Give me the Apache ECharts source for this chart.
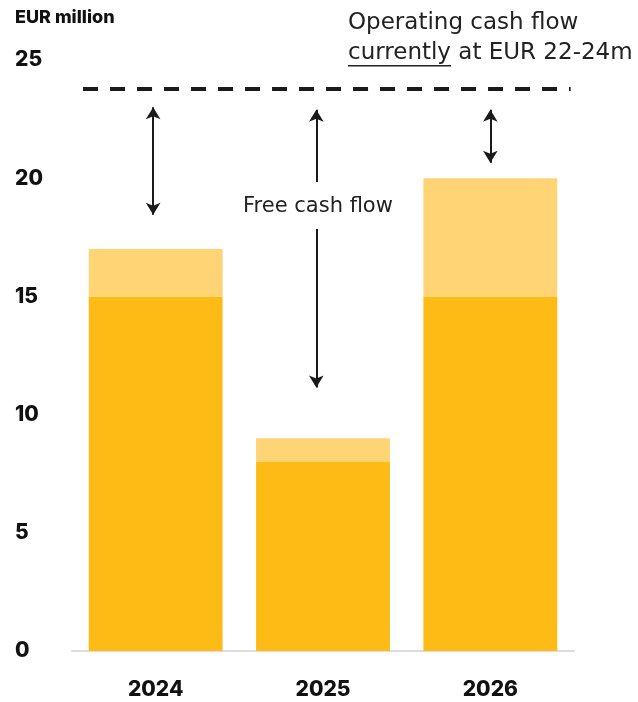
<!DOCTYPE html>
<html>
<head>
<meta charset="utf-8">
<script src="https://cdn.jsdelivr.net/npm/echarts@6/dist/echarts.min.js"></script>
<style>html,body{margin:0;padding:0;background:#fff}#c{width:638px;height:702px}</style>
</head>
<body>
<div id="c"></div>
<script>
const categories = ['2024', '2025', '2026'];
const freeCashFlowBase = [15, 8, 15];
const freeCashFlowUpper = [2, 1, 5];
const yTicks = [0, 5, 10, 15, 20, 25];
const operatingCashFlow = 23.8;
// arrows: [x position (category index), top value, bottom value]
const arrows2024 = [-0.015, 23.0, 18.45];
const arrows2025Upper = [0.96, 22.9, 19.84];
const arrows2025Lower = [0.96, 17.85, 11.15];
const arrows2026 = [2.0, 22.9, 20.65];
const dashedSpan = [-0.434, 2.48];
const fcfLabelPos = [0.97, 18.78];

const FONT = 'Inter, "Noto Sans", sans-serif';
const FONT2 = '"DejaVu Sans", sans-serif';
const chart = echarts.init(document.getElementById('c'));

function arrowPair(a, topSym, botSym) {
  return [
    { coord: [a[0], a[1]], symbol: topSym },
    { coord: [a[0], a[2]], symbol: botSym }
  ];
}

const noteFont = '23px ' + FONT2;
const ctx = document.createElement('canvas').getContext('2d');
ctx.font = noteFont;
const underlineW = ctx.measureText('currently').width;

chart.setOption({
  animation: false,
  textStyle: { fontFamily: FONT },
  title: {
    text: 'EUR million',
    left: 10, top: 4,
    textStyle: { fontFamily: FONT, fontSize: 18, fontWeight: 800, color: '#111' }
  },
  grid: { left: 72, right: 64, top: 60, bottom: 51 },
  xAxis: [{
    type: 'category',
    data: categories,
    axisLine: { show: true, lineStyle: { color: '#dcdcdc', width: 2 } },
    axisTick: { show: false },
    axisLabel: { margin: 28, fontFamily: FONT, fontSize: 21, fontWeight: 800, color: '#111' }
  }, {
    type: 'value', min: -0.5, max: 2.5, show: false
  }],
  yAxis: {
    type: 'value', min: yTicks[0], max: yTicks[yTicks.length - 1], interval: 5,
    splitLine: { show: false },
    axisLine: { show: false },
    axisTick: { show: false },
    axisLabel: { align: 'left', margin: 57, fontFamily: FONT, fontSize: 21, fontWeight: 800, color: '#111' }
  },
  series: [{
    type: 'bar', stack: 'fcf', data: freeCashFlowBase,
    barCategoryGap: '20%',
    itemStyle: { color: '#FEBB15' }
  }, {
    type: 'bar', stack: 'fcf', data: freeCashFlowUpper,
    itemStyle: { color: '#FFD474' }
  }, {
    type: 'line', xAxisIndex: 1, data: [], silent: true,
    markLine: {
      silent: true,
      symbol: ['none', 'none'],
      label: { show: false },
      lineStyle: { color: '#1a1a1a', width: 4, type: [15, 12] },
      data: [[
        { coord: [dashedSpan[0], operatingCashFlow] },
        { coord: [dashedSpan[1], operatingCashFlow] }
      ]]
    },
    markPoint: {
      silent: true,
      symbol: 'circle', symbolSize: 1,
      itemStyle: { color: 'rgba(0,0,0,0)' },
      label: { show: true, position: 'inside', formatter: 'Free cash flow', fontFamily: FONT2, fontSize: 21, color: '#222' },
      data: [{ coord: fcfLabelPos }]
    }
  }, {
    type: 'line', xAxisIndex: 1, data: [], silent: true,
    markLine: {
      silent: true,
      symbolSize: [11, 12],
      label: { show: false },
      lineStyle: { color: '#1a1a1a', width: 2, type: 'solid' },
      data: [
        arrowPair(arrows2024, 'arrow', 'arrow'),
        arrowPair(arrows2025Upper, 'arrow', 'none'),
        arrowPair(arrows2025Lower, 'none', 'arrow'),
        arrowPair(arrows2026, 'arrow', 'arrow')
      ]
    }
  }],
  graphic: [{
    type: 'text', left: 348, top: 8,
    style: {
      text: 'Operating cash flow\ncurrently at EUR 22-24m',
      font: noteFont, fill: '#222', lineHeight: 30
    }
  }, {
    type: 'rect', left: 348, top: 65,
    shape: { width: underlineW, height: 1.5 },
    style: { fill: '#222' }
  }]
});
</script>
</body>
</html>
